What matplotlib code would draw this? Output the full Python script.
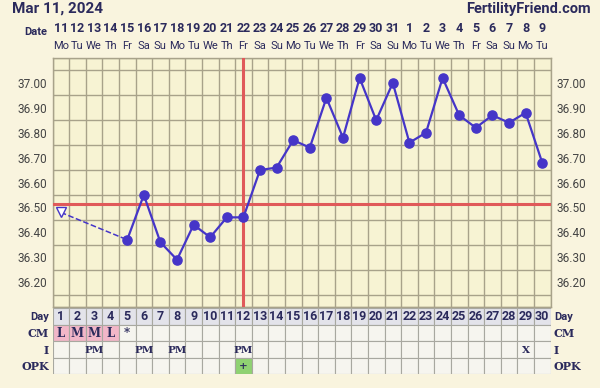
import numpy as np
import matplotlib
matplotlib.use("Agg")
import matplotlib.pyplot as plt
from matplotlib.transforms import blended_transform_factory
from matplotlib.patches import Rectangle

# ── data ──
cycle_days = list(range(1, 31))
dates = [str(d) for d in list(range(11, 32)) + list(range(1, 10))]
weekdays = (["Mo", "Tu", "We", "Th", "Fr", "Sa", "Su"] * 5)[:30]
temp_days = list(range(5, 31))
temps = [36.37, 36.55, 36.36, 36.29, 36.43, 36.38, 36.46, 36.46, 36.65, 36.66,
         36.77, 36.74, 36.94, 36.78, 37.02, 36.85, 37.00, 36.76, 36.80, 37.02,
         36.87, 36.82, 36.87, 36.84, 36.88, 36.68]
discarded_day, discarded_temp = 1, 36.48
coverline = 36.515
ovulation_day = 12
cm_row = {1: "L", 2: "M", 3: "M", 4: "L", 5: "*"}
i_row = {3: "PM", 6: "PM", 8: "PM", 12: "PM", 29: "X"}
opk_row = {12: "+"}
ytick_vals = [36.2, 36.3, 36.4, 36.5, 36.6, 36.7, 36.8, 36.9, 37.0]

BG = "#f9f4de"
PLOT_BG = "#f7f3d3"
GRID = "#a8a28a"
NAVY = "#2b2a5c"
LINE = "#4535c8"
RED = "#e05a5a"

W, H = 600, 388
fig = plt.figure(figsize=(6, 3.88), dpi=100, facecolor=BG)


def fx(px):
    return px / W


def fy(py):
    return 1 - py / H


left, right = 52.5, 550.5
top, bottom = 58, 307
ax = fig.add_axes([fx(left), fy(bottom), fx(right - left), (bottom - top) / H])
ax.set_facecolor(PLOT_BG)
ax.set_xlim(0.5, 30.5)
ax.set_ylim(36.10, 37.10)

ax.set_xticks(np.arange(0.5, 31, 1), minor=True)
ax.set_xticks([])
ax.set_yticks(ytick_vals)
ax.set_yticklabels([f"{v:.2f}" for v in ytick_vals])
ax.set_yticks(np.arange(36.10, 37.11, 0.05), minor=True)
ax.grid(which="minor", color=GRID, linewidth=1.0)
ax.tick_params(which="both", length=0)
ax.tick_params(axis="y", labelright=True, labelsize=8.5, labelcolor="#444444", pad=4)
for lbl in ax.get_yticklabels():
    lbl.set_family("Roboto")
for s in ax.spines.values():
    s.set_color(GRID)
    s.set_linewidth(1.0)
ax.set_axisbelow(True)

# cover line and ovulation line
ax.axhline(coverline, color=RED, linewidth=2.2, zorder=3)
ax.axvline(ovulation_day, color=RED, linewidth=2.2, zorder=3)

# temperatures
ax.plot([discarded_day, temp_days[0]], [discarded_temp, temps[0]], "--",
        color=LINE, linewidth=1.1, zorder=4)
ax.plot([discarded_day], [discarded_temp], marker="v", markersize=7,
        markerfacecolor="white", markeredgecolor=LINE, markeredgewidth=1.0, zorder=5)
ax.plot(temp_days, temps, "-o", color=LINE, linewidth=1.6, markersize=6.6, zorder=5)

# header
fig.text(fx(12), fy(9), "Mar 11, 2024", fontsize=11, fontweight="bold",
         color=NAVY, family="Roboto", va="center", ha="left")
fig.text(fx(591), fy(9), "FertilityFriend.com", fontsize=10.5, fontweight="bold",
         color=NAVY, family="Roboto", va="center", ha="right")
fig.text(fx(47), fy(32), "Date", fontsize=8, fontweight="bold", color=NAVY,
         family="Roboto", va="center", ha="right")
tr = blended_transform_factory(ax.transData, fig.transFigure)
for d, ds, wd in zip(cycle_days, dates, weekdays):
    ax.text(d, fy(28), ds, transform=tr, ha="center", va="center", fontsize=9,
            fontweight="bold", color=NAVY, family="Roboto")
    ax.text(d, fy(46), wd, transform=tr, ha="center", va="center", fontsize=8,
            color=NAVY, family="Roboto")

# table below chart
t_top, t_bot = 308, 374
tax = fig.add_axes([fx(left), fy(t_bot), fx(right - left), (t_bot - t_top) / H])
tax.set_xlim(0.5, 30.5)
tax.set_ylim(4, 0)
tax.axis("off")
row_colors = ["#e3e3ea", "#f6f5ef", "#f6f5ef", "#f6f5ef"]
for r in range(4):
    for d in cycle_days:
        fc = row_colors[r]
        if r == 1 and d in (1, 2, 3, 4):
            fc = "#f2b6c8"
        if r == 3 and d in opk_row:
            fc = "#8fd272"
        tax.add_patch(Rectangle((d - 0.5, r), 1, 1, facecolor=fc,
                                edgecolor="#a8a8a0", linewidth=0.8))

serif = "DejaVu Serif"
for d in cycle_days:
    tax.text(d, 0.52, str(d), ha="center", va="center", fontsize=9,
             fontweight="bold", color=NAVY, family="Roboto")
for d, v in cm_row.items():
    tax.text(d, 1.55, v, ha="center", va="center", fontsize=8.5,
             fontweight="bold", color=NAVY, family=serif)
for d, v in i_row.items():
    tax.text(d, 2.55, v, ha="center", va="center", fontsize=7.5,
             fontweight="bold", color=NAVY, family=serif)
for d, v in opk_row.items():
    tax.text(d, 3.55, v, ha="center", va="center", fontsize=7.5,
             fontweight="bold", color=NAVY, family=serif)

row_labels = ["Day", "CM", "I", "OPK"]
for r, lab in enumerate(row_labels):
    fam = "Roboto" if lab == "Day" else serif
    tax.text(0.3, r + 0.55, lab, ha="right", va="center", fontsize=8,
             fontweight="bold", color=NAVY, family=fam)
    tax.text(30.7, r + 0.55, lab, ha="left", va="center", fontsize=8,
             fontweight="bold", color=NAVY, family=fam)

fig.savefig("out.png", dpi=100, facecolor=BG)
